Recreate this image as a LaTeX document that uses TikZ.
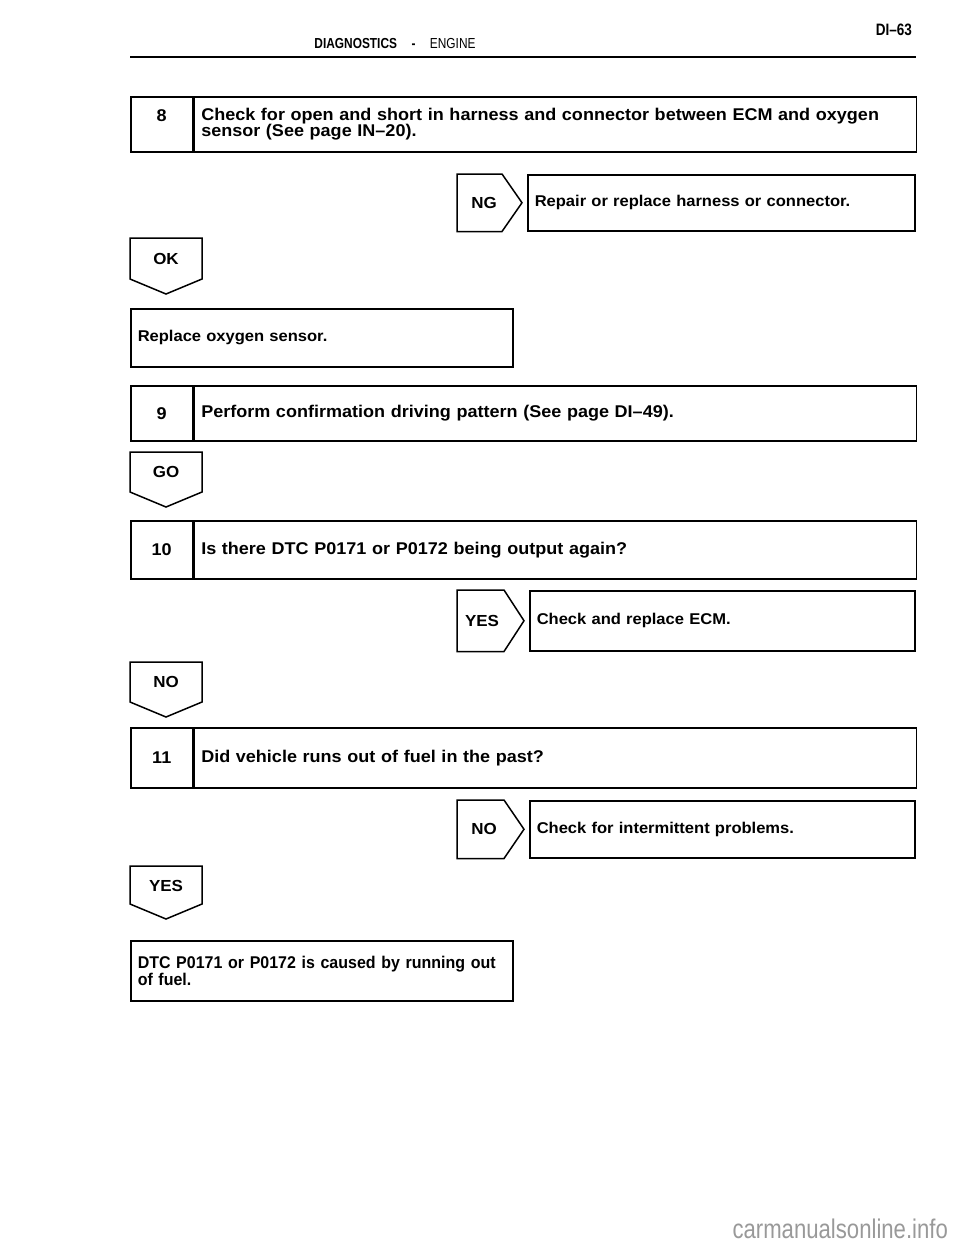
\documentclass[tikz,border=0pt]{standalone}
\usepackage{fontspec}
\setmainfont[FakeStretch=1.06]{Liberation Sans}
\newfontfamily\condfont[FakeStretch=0.94]{Liberation Sans}
\newfontfamily\narrowfont[FakeStretch=0.82,Ligatures=TeX]{Liberation Sans}
\usetikzlibrary{positioning}

\begin{document}
\begin{tikzpicture}[x=1pt,y=-1pt,line width=1.5pt,font=\fontsize{17}{16.5}\selectfont\bfseries,
  numcell/.style={draw,anchor=north west,minimum width=62pt,minimum height=#1,inner sep=0pt,align=center},
  textcell/.style={draw,anchor=north west,minimum height=#1,inner xsep=7pt,inner ysep=0pt,align=left},
  result/.style={textcell=#1,font=\fontsize{15.6}{16}\selectfont\bfseries},
  tablabel/.style={font=\fontsize{16}{16}\selectfont\bfseries}]
  \useasboundingbox (0,0) rectangle (960,1250);

  % header
  \node[anchor=base] (hdr) at (395,48) {\narrowfont\fontsize{14.5}{14.5}\selectfont DIAGNOSTICS\quad -\quad\mdseries ENGINE};
  \node[anchor=base east] (pg) at (916,35) {\narrowfont\fontsize{16.5}{16.5}\selectfont\bfseries DI--63};
  \draw[line width=2pt] (130,57) -- (916,57);

  % step 8
  \node[numcell=55pt] (n8) at (130,96) {8\\\phantom{8}};
  \node[textcell=55pt,text width=708pt] (t8) at (n8.north east)
    {Check for open and short in harness and connector between ECM and oxygen\\sensor (See page IN--20).};

  % NG
  \node[result=56pt,text width=373pt] (r8) at (527,174) {Repair or replace harness or connector.};
  \draw ([xshift=-70pt]r8.north west) -- ([xshift=-25pt]r8.north west) -- ([xshift=-5pt]r8.west)
    -- ([xshift=-25pt]r8.south west) -- ([xshift=-70pt]r8.south west) -- cycle;
  \node[tablabel] (ng) at ([xshift=-43pt]r8.west) {NG};

  % OK
  \draw (130,238) -- (202,238) -- (202,279) -- (166,294) -- (130,279) -- cycle;
  \node[tablabel] (ok) at (166,259) {OK};

  \node[result=58pt,text width=368pt] (b1) at (130,308) {Replace oxygen sensor.};

  % step 9
  \node[numcell=55pt] (n9) at (130,385) {9};
  \node[textcell=55pt,text width=708pt] (t9) at (n9.north east) {Perform confirmation driving pattern (See page DI--49).};

  % GO
  \draw (130,452) -- (202,452) -- (202,492) -- (166,507) -- (130,492) -- cycle;
  \node[tablabel] (go) at (166,472) {GO};

  % step 10
  \node[numcell=58pt] (n10) at (130,520) {10};
  \node[textcell=58pt,text width=708pt] (t10) at (n10.north east) {Is there DTC P0171 or P0172 being output again?};

  % YES
  \node[result=60pt,text width=371pt] (r10) at (529,590) {Check and replace ECM.};
  \draw ([xshift=-72pt]r10.north west) -- ([xshift=-25pt]r10.north west) -- ([xshift=-5pt]r10.west)
    -- ([xshift=-25pt]r10.south west) -- ([xshift=-72pt]r10.south west) -- cycle;
  \node[tablabel] (yes1) at ([xshift=-47pt]r10.west) {YES};

  % NO
  \draw (130,662) -- (202,662) -- (202,702) -- (166,717) -- (130,702) -- cycle;
  \node[tablabel] (no1) at (166,682) {NO};

  % step 11
  \node[numcell=60pt] (n11) at (130,727) {11};
  \node[textcell=60pt,text width=708pt] (t11) at (n11.north east) {Did vehicle runs out of fuel in the past?};

  % NO
  \node[result=57pt,text width=371pt] (r11) at (529,800) {Check for intermittent problems.};
  \draw ([xshift=-72pt]r11.north west) -- ([xshift=-25pt]r11.north west) -- ([xshift=-5pt]r11.west)
    -- ([xshift=-25pt]r11.south west) -- ([xshift=-72pt]r11.south west) -- cycle;
  \node[tablabel] (no2) at ([xshift=-45pt]r11.west) {NO};

  % YES
  \draw (130,866) -- (202,866) -- (202,904) -- (166,919) -- (130,904) -- cycle;
  \node[tablabel] (yes2) at (166,886) {YES};

  \node[textcell=60pt,text width=368pt,font=\condfont\fontsize{17}{15.5}\selectfont\bfseries] (b2) at (130,940)
    {DTC P0171 or P0172 is caused by running out\\of fuel.};

  \node[anchor=base east,text=black!40] (wm) at (952,1238)
    {\narrowfont\mdseries\fontsize{27}{27}\selectfont carmanualsonline.info};
\end{tikzpicture}
\end{document}
